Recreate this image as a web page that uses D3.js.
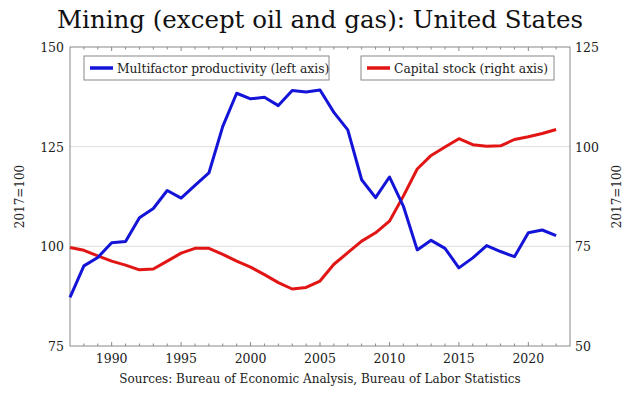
<!DOCTYPE html>
<html>
<head>
<meta charset="utf-8">
<script src="https://cdn.jsdelivr.net/npm/d3@7"></script>
<style>
  body { margin: 0; background: #fff; }
</style>
</head>
<body>
<svg id="chart" width="640" height="393" font-family="'DejaVu Serif', 'Liberation Serif', serif"></svg>
<script>
const years = d3.range(1987, 2023);

// Multifactor productivity, 2017=100 (left axis)
const mfp = [87.2, 95.1, 97.2, 100.9, 101.2, 107.2, 109.5, 114.0, 112.1, 115.3,
  118.4, 130.1, 138.4, 137.0, 137.4, 135.3, 139.1, 138.7, 139.2, 133.6,
  129.2, 116.7, 112.2, 117.4, 110.1, 99.1, 101.5, 99.5, 94.6, 97.1,
  100.2, 98.7, 97.4, 103.4, 104.1, 102.7];

// Capital stock, 2017=100 (right axis)
const capital = [74.7, 74.0, 72.6, 71.3, 70.3, 69.1, 69.3, 71.3, 73.3, 74.5,
  74.5, 73.0, 71.3, 69.8, 67.9, 65.9, 64.3, 64.7, 66.3, 70.5,
  73.4, 76.3, 78.4, 81.3, 87.6, 94.4, 97.8, 99.9, 102.0, 100.5,
  100.1, 100.2, 101.8, 102.5, 103.3, 104.3];

const leftTicks = [75, 100, 125, 150];
const rightTicks = [50, 75, 100, 125];
const yearTicks = [1990, 1995, 2000, 2005, 2010, 2015, 2020];

const svg = d3.select("#chart");
const margin = { top: 47, right: 70, bottom: 47, left: 70 };
const width = 640 - margin.left - margin.right;
const height = 393 - margin.top - margin.bottom;
const textColor = "#222";

const g = svg.append("g")
    .attr("transform", `translate(${margin.left},${margin.top})`);

const x = d3.scaleLinear().domain([1987, 2023]).range([0, width]);
const yL = d3.scaleLinear().domain([75, 150]).range([height, 0]);
const yR = d3.scaleLinear().domain([50, 125]).range([height, 0]);

// title
svg.append("text")
  .attr("x", 320)
  .attr("y", 28)
  .attr("text-anchor", "middle")
  .style("font-size", "24.5px")
  .style("fill", "#111")
  .text("Mining (except oil and gas): United States");

// grid lines
g.selectAll(".grid")
  .data([100, 125])
  .enter()
  .append("line")
  .attr("x1", 0)
  .attr("x2", width)
  .attr("y1", d => yL(d))
  .attr("y2", d => yL(d))
  .attr("stroke", "#ddd")
  .attr("stroke-width", 1);

// year ticks, bottom and top, pointing inward
const allYears = d3.range(1988, 2023);
g.selectAll(".tickB")
  .data(allYears)
  .enter()
  .append("line")
  .attr("x1", d => x(d))
  .attr("x2", d => x(d))
  .attr("y1", height)
  .attr("y2", d => height - (d % 5 === 0 ? 4 : 2.5))
  .attr("stroke", "#888");

g.selectAll(".tickT")
  .data(allYears)
  .enter()
  .append("line")
  .attr("x1", d => x(d))
  .attr("x2", d => x(d))
  .attr("y1", 0)
  .attr("y2", d => (d % 5 === 0 ? 4 : 2.5))
  .attr("stroke", "#888");

// frame
g.append("rect")
  .attr("width", width)
  .attr("height", height)
  .attr("fill", "none")
  .attr("stroke", "#888")
  .attr("stroke-width", 1);

// tick labels
g.selectAll(".labX")
  .data(yearTicks)
  .enter()
  .append("text")
  .attr("x", d => x(d))
  .attr("y", height + 17)
  .attr("text-anchor", "middle")
  .style("font-size", "12.5px")
  .style("fill", textColor)
  .text(d => d);

g.selectAll(".labL")
  .data(leftTicks)
  .enter()
  .append("text")
  .attr("x", -6)
  .attr("y", d => yL(d) + 5)
  .attr("text-anchor", "end")
  .style("font-size", "12.5px")
  .style("fill", textColor)
  .text(d => d);

g.selectAll(".labR")
  .data(rightTicks)
  .enter()
  .append("text")
  .attr("x", width + 5)
  .attr("y", d => yR(d) + 5)
  .attr("text-anchor", "start")
  .style("font-size", "12.5px")
  .style("fill", textColor)
  .text(d => d);

// axis titles
svg.append("text")
  .attr("transform", `translate(24,${margin.top + height / 2}) rotate(-90)`)
  .attr("text-anchor", "middle")
  .style("font-size", "12px")
  .style("fill", textColor)
  .text("2017=100");

svg.append("text")
  .attr("transform", `translate(621,${margin.top + height / 2}) rotate(-90)`)
  .attr("text-anchor", "middle")
  .style("font-size", "12px")
  .style("fill", textColor)
  .text("2017=100");

// lines
const lineL = d3.line().x((d, i) => x(years[i])).y(d => yL(d));
const lineR = d3.line().x((d, i) => x(years[i])).y(d => yR(d));

g.append("path")
  .datum(capital)
  .attr("d", lineR)
  .attr("fill", "none")
  .attr("stroke", "#e21515")
  .attr("stroke-width", 3)
  .attr("stroke-linejoin", "round");

g.append("path")
  .datum(mfp)
  .attr("d", lineL)
  .attr("fill", "none")
  .attr("stroke", "#1414d8")
  .attr("stroke-width", 3)
  .attr("stroke-linejoin", "round");

// legends
const legends = [
  { label: "Multifactor productivity (left axis)", color: "#1414d8", x0: 14, w: 245 },
  { label: "Capital stock (right axis)", color: "#e21515", x0: 291, w: 193 }
];

const legend = g.selectAll(".legend")
  .data(legends)
  .enter()
  .append("g")
  .attr("class", "legend")
  .attr("transform", d => `translate(${d.x0},9)`);

legend.append("rect")
  .attr("width", d => d.w)
  .attr("height", 24)
  .attr("fill", "#fff")
  .attr("stroke", "#888");

legend.append("line")
  .attr("x1", 6)
  .attr("x2", 29)
  .attr("y1", 12)
  .attr("y2", 12)
  .attr("stroke", d => d.color)
  .attr("stroke-width", 3.5);

legend.append("text")
  .attr("x", 33)
  .attr("y", 16.5)
  .style("font-size", "12.3px")
  .style("fill", textColor)
  .text(d => d.label);

// source note
svg.append("text")
  .attr("x", 320)
  .attr("y", 383)
  .attr("text-anchor", "middle")
  .style("font-size", "12px")
  .style("fill", textColor)
  .text("Sources: Bureau of Economic Analysis, Bureau of Labor Statistics");
</script>
</body>
</html>
